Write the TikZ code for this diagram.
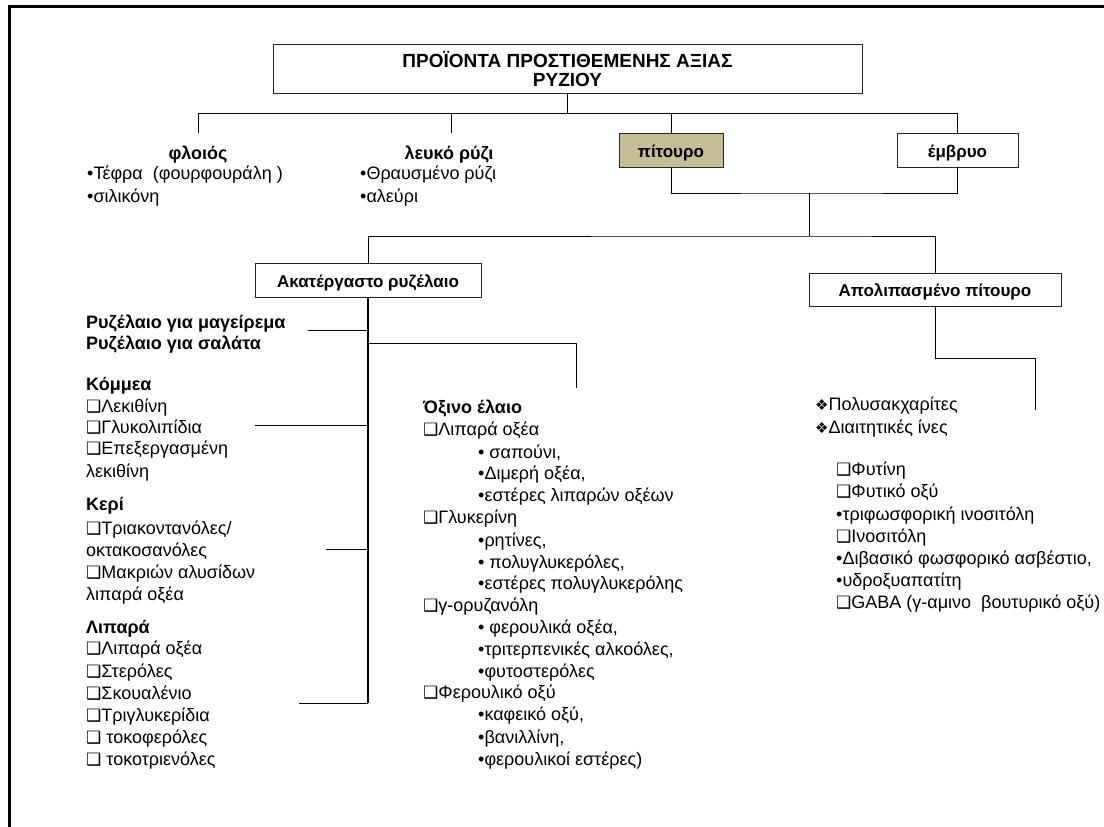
\documentclass[tikz,border=0pt]{standalone}
\usepackage{fontspec}
\setmainfont{Liberation Sans}
\newfontfamily\symfont{DejaVu Sans}
\definecolor{pitfill}{HTML}{C4BD97}
\newcommand{\fs}{\fontsize{18}{22}\selectfont}
\newcommand{\sq}{{\symfont\fontsize{17}{17}\selectfont ❑}}
\newcommand{\dia}{{\symfont\fontsize{15}{15}\selectfont ❖}}
\begin{document}
\begin{tikzpicture}[x=1pt,y=-1pt,
  box/.style={draw=black!85, line width=0.9pt, inner sep=0pt, text height=15pt, text depth=1pt,
              font=\bfseries\fontsize{17}{20}\selectfont},
  conn/.style={line width=0.9pt, draw=black},
  spine/.style={line width=1.7pt, draw=black},
  txt/.style={anchor=base west, inner sep=0pt, font=\fs},
  hd/.style={anchor=base west, inner sep=0pt, font=\bfseries\fs},
  hdc/.style={anchor=base, inner sep=0pt, font=\bfseries\fs}]
\useasboundingbox (0,0) rectangle (1104,827);
% frame
\draw[line width=3pt] (1106,6) -- (9,6) -- (9,829);
% boxes
\node[draw=black!85, line width=0.9pt, inner sep=0pt, minimum width=589pt, minimum height=49pt, align=center,
      font=\bfseries\fontsize{19}{19}\selectfont] (title) at (567.5,68.5)
      {ΠΡΟΪΟΝΤΑ ΠΡΟΣΤΙΘΕΜΕΝΗΣ ΑΞΙΑΣ\\ΡΥΖΙΟΥ};
\node[box, fill=pitfill, minimum width=104pt, minimum height=34pt] (pitouro) at (671,150) {πίτουρο};
\node[box, fill=white, minimum width=121pt, minimum height=34pt] (embryo) at (957.5,150) {έμβρυο};
\node[box, minimum width=226pt, minimum height=34pt] (akat) at (368,280) {Ακατέργαστο ρυζέλαιο};
\node[box, minimum width=252pt, minimum height=33pt] (apol) at (935,289.5) {Απολιπασμένο πίτουρο};
% top-level texts
\node[hdc] (floios) at (198,159) {φλοιός};
\node[txt] (f1) at (87,179) {•Τέφρα\ \ (φουρφουράλη\ )};
\node[txt] (f2) at (87,202) {•σιλικόνη};
\node[hdc] (leuko) at (449,159) {λευκό ρύζι};
\node[txt] (l1) at (360,179) {•Θραυσμένο ρύζι};
\node[txt] (l2) at (360,202) {•αλεύρι};
% connectors top
\coordinate (bus) at (567.5,113);
\coordinate (flT) at (198,133);
\coordinate (lrT) at (451,133);
\coordinate (busL) at (198,113);
\coordinate (busR) at (957.5,113);
\draw[line width=1.8pt] (title.south) -- (bus);
\draw[conn] (flT) -- (busL) -- (busR) -- (embryo.north);
\draw[conn] (lrT) -- (lrT |- bus);
\draw[conn] (pitouro.north) -- (pitouro.north |- bus);
\coordinate (j2) at (809,193);
\coordinate (j3) at (809,236);
\draw[conn] (pitouro.south) |- (j2) -| (embryo.south);
\draw[conn] (j2) -- (j3);
\draw[conn] (akat.north) |- (j3) -| (apol.north);
% spine of Ακατέργαστο ρυζέλαιο
\coordinate (sEnd) at (368,703);
\draw[spine] (akat.south) -- (sEnd);
\coordinate (s1) at (368,330); \coordinate (b1) at (308,330);
\coordinate (s2) at (368,343); \coordinate (b2a) at (576,343); \coordinate (b2) at (576,388);
\coordinate (s3) at (368,425); \coordinate (b3) at (255,425);
\coordinate (s4) at (368,549); \coordinate (b4) at (326,549);
\coordinate (b5) at (299,703);
\draw[conn] (s1) -- (b1);
\draw[conn] (s2) -- (b2a) -- (b2);
\draw[conn] (s3) -- (b3);
\draw[conn] (s4) -- (b4);
\draw[conn] (sEnd) -- (b5);
% Απολιπασμένο connector
\coordinate (r1) at (935,358); \coordinate (r2) at (1035,358); \coordinate (r3) at (1035,410);
\draw[conn] (apol.south) -- (r1) -- (r2) -- (r3);
% left column
\node[hd] (c1) at (86,328) {Ρυζέλαιο για μαγείρεμα};
\node[hd] (c2) at (86,349) {Ρυζέλαιο για σαλάτα};
\node[hd] (c3) at (86,390) {Κόμμεα};
\node[txt] (c4) at (86,412) {\sq Λεκιθίνη};
\node[txt] (c5) at (86,433) {\sq Γλυκολιπίδια};
\node[txt] (c6) at (86,454) {\sq Επεξεργασμένη};
\node[txt] (c7) at (86,477) {λεκιθίνη};
\node[hd] (c8) at (86,510) {Κερί};
\node[txt] (c9) at (86,534) {\sq Τριακοντανόλες/};
\node[txt] (c10) at (86,556) {οκτακοσανόλες};
\node[txt] (c11) at (86,578) {\sq Μακριών αλυσίδων};
\node[txt] (c12) at (86,600) {λιπαρά οξέα};
\node[hd] (c13) at (86,633) {Λιπαρά};
\node[txt] (c14) at (86,654) {\sq Λιπαρά οξέα};
\node[txt] (c15) at (86,677) {\sq Στερόλες};
\node[txt] (c16) at (86,699) {\sq Σκουαλένιο};
\node[txt] (c17) at (86,721) {\sq Τριγλυκερίδια};
\node[txt] (c18) at (86,743) {\sq\ τοκοφερόλες};
\node[txt] (c19) at (86,765) {\sq\ τοκοτριενόλες};
% middle column
\node[hd] (m1) at (423,413) {Όξινο έλαιο};
\node[txt] (m2) at (423,435) {\sq Λιπαρά οξέα};
\node[txt] (m3) at (478,458) {• σαπούνι,};
\node[txt] (m4) at (478,479) {•Διμερή οξέα,};
\node[txt] (m5) at (478,501) {•εστέρες λιπαρών οξέων};
\node[txt] (m6) at (423,523) {\sq Γλυκερίνη};
\node[txt] (m7) at (478,546) {•ρητίνες,};
\node[txt] (m8) at (478,568) {• πολυγλυκερόλες,};
\node[txt] (m9) at (478,589) {•εστέρες πολυγλυκερόλης};
\node[txt] (m10) at (423,611) {\sq γ-ορυζανόλη};
\node[txt] (m11) at (478,633) {• φερουλικά οξέα,};
\node[txt] (m12) at (478,655) {•τριτερπενικές αλκοόλες,};
\node[txt] (m13) at (478,677) {•φυτοστερόλες};
\node[txt] (m14) at (423,698) {\sq Φερουλικό οξύ};
\node[txt] (m15) at (478,720) {•καφεικό οξύ,};
\node[txt] (m16) at (478,743) {•βανιλλίνη,};
\node[txt] (m17) at (478,765) {•φερουλικοί εστέρες)};
% right column
\node[txt] (r4) at (815,410) {\dia Πολυσακχαρίτες};
\node[txt] (r5) at (815,433) {\dia Διαιτητικές ίνες};
\node[txt] (r6) at (836,475) {\sq Φυτίνη};
\node[txt] (r7) at (836,497) {\sq Φυτικό οξύ};
\node[txt] (r8) at (836,520) {•τριφωσφορική ινοσιτόλη};
\node[txt] (r9) at (836,542) {\sq Ινοσιτόλη};
\node[txt] (r10) at (836,564) {•Διβασικό φωσφορικό ασβέστιο,};
\node[txt] (r11) at (836,586) {•υδροξυαπατίτη};
\node[txt] (r12) at (836,608) {\sq GABA (γ-αμινο\ \ βουτυρικό οξύ)};
\end{tikzpicture}
\end{document}
